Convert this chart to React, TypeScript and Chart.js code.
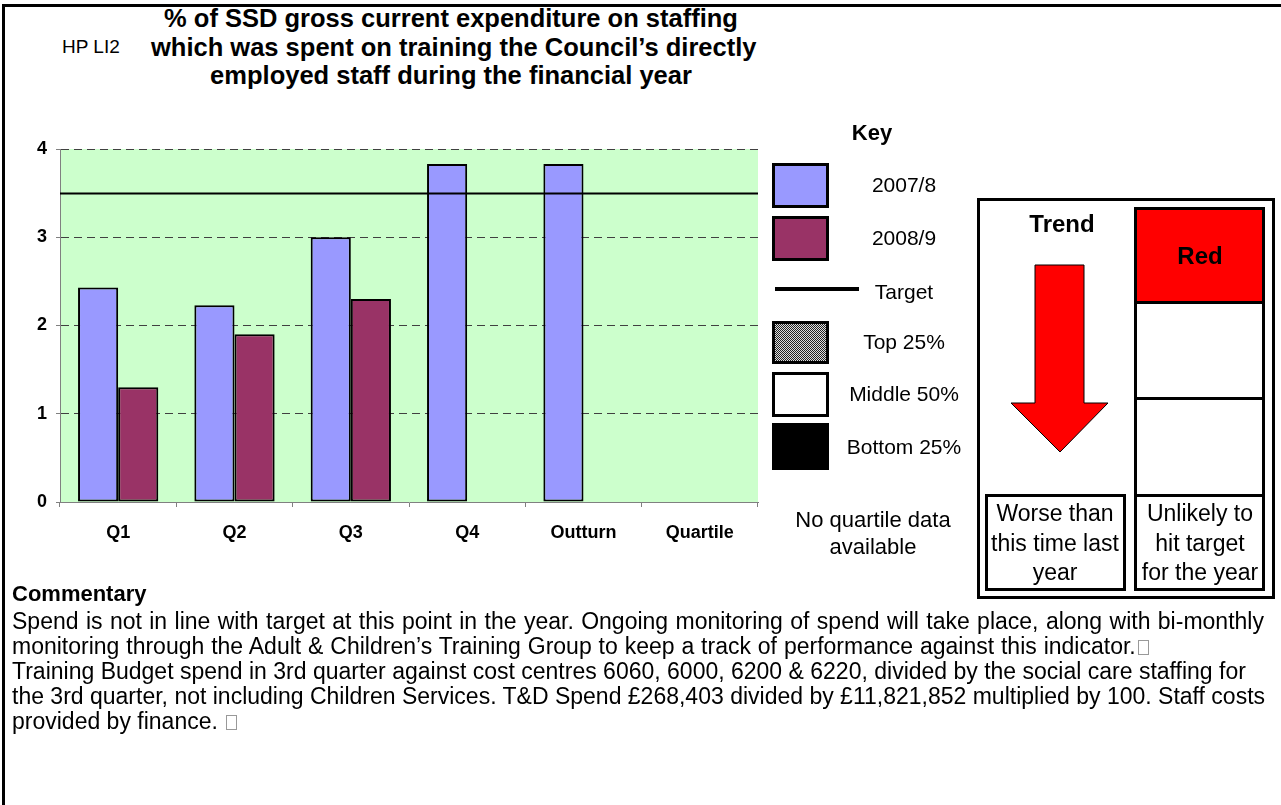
import React, { useEffect, useRef } from "react";
import { Chart, registerables } from "chart.js";

Chart.register(...registerables);

const categories = ["Q1", "Q2", "Q3", "Q4", "Outturn", "Quartile"];
const series2007 = [2.43, 2.23, 3.0, 3.83, 3.83, null];
const series2008 = [1.3, 1.9, 2.3, null, null, null];
const targetValue = 3.5;
const yMin = 0;
const yMax = 4;
const yStep = 1;

const FONT = '"Liberation Sans", Arial, Helvetica, sans-serif';

const commentaryLines = [
  "Spend is not in line with target at this point in the year. Ongoing monitoring of spend will take place, along with bi-monthly",
  "monitoring through the Adult & Children\u2019s Training Group to keep a track of performance against this indicator.",
  "Training Budget spend in 3rd quarter against cost centres 6060, 6000, 6200 & 6220, divided by the social care staffing for",
  "the 3rd quarter, not including Children Services. T&D Spend \u00a3268,403 divided by \u00a311,821,852 multiplied by 100. Staff costs",
  "provided by finance. ",
];
const commentaryBox = [false, true, false, false, true];
const commentaryWordSpacing = [1, 0.5, 0, 0, 0];

const titleLines = [
  "% of SSD gross current expenditure on staffing",
  "which was spent on training the Council\u2019s directly",
  "employed staff during the financial year",
];

const CW = 780;
const CH = 440;

function Centered({ cx, cy, children, style }: any) {
  return (
    <div
      style={{
        position: "absolute",
        left: cx - 300,
        width: 600,
        top: cy - 15,
        height: 30,
        lineHeight: "30px",
        textAlign: "center",
        whiteSpace: "nowrap",
        ...style,
      }}
    >
      {children}
    </div>
  );
}

function Left({ x, cy, children, style }: any) {
  return (
    <div
      style={{
        position: "absolute",
        left: x,
        top: cy - 15,
        height: 30,
        lineHeight: "30px",
        whiteSpace: "nowrap",
        ...style,
      }}
    >
      {children}
    </div>
  );
}

const Box = () => (
  <span
    style={{
      display: "inline-block",
      width: 11,
      height: 15,
      border: "1px solid #999",
      marginLeft: 2,
      verticalAlign: "-1px",
      boxSizing: "border-box",
    }}
  />
);

function BarChart() {
  const ref = useRef<HTMLCanvasElement | null>(null);
  useEffect(() => {
    if (!ref.current) return;
    const bgPlugin = {
      id: "bgPlugin",
      beforeDraw(chart: any) {
        const { ctx, chartArea } = chart;
        ctx.save();
        ctx.fillStyle = "#CCFFCC";
        ctx.fillRect(chartArea.left, chartArea.top, chartArea.right - chartArea.left, chartArea.bottom - chartArea.top);
        ctx.restore();
      },
    };
    const targetPlugin = {
      id: "targetPlugin",
      afterDatasetsDraw(chart: any) {
        const { ctx, chartArea, scales } = chart;
        const y = Math.round(scales.y.getPixelForValue(targetValue)) + 0.5;
        ctx.save();
        ctx.strokeStyle = "#000";
        ctx.lineWidth = 2;
        ctx.beginPath();
        ctx.moveTo(chartArea.left, y);
        ctx.lineTo(chartArea.right, y);
        ctx.stroke();
        ctx.restore();
      },
    };
    const chart = new Chart(ref.current, {
      type: "bar",
      data: {
        labels: categories,
        datasets: [
          {
            label: "2007/8",
            data: series2007,
            backgroundColor: "#9999FF",
            borderColor: "#000",
            borderWidth: 2,
            borderSkipped: false,
          },
          {
            label: "2008/9",
            data: series2008,
            backgroundColor: "#993366",
            borderColor: "#000",
            borderWidth: 2,
            borderSkipped: false,
          },
        ],
      },
      options: {
        responsive: false,
        animation: false,
        devicePixelRatio: 1,
        layout: { padding: { top: 29, right: 22, left: 0, bottom: 0 } },
        datasets: { bar: { categoryPercentage: 0.69, barPercentage: 1.0 } },
        plugins: { legend: { display: false }, tooltip: { enabled: false }, title: { display: false } },
        scales: {
          x: {
            afterFit(scale: any) {
              scale.height = 58;
            },
            grid: {
              display: true,
              drawOnChartArea: false,
              drawTicks: true,
              tickLength: 5,
              tickColor: "#808080",
              offset: true,
            },
            border: { display: true, color: "#808080", width: 1 },
            ticks: {
              color: "#000",
              font: { family: FONT, size: 18, weight: "bold" },
              padding: 15,
              maxRotation: 0,
            },
          },
          y: {
            min: yMin,
            max: yMax,
            afterFit(scale: any) {
              scale.width = 60;
            },
            grid: {
              color: (c: any) => (c.tick && c.tick.value === 0 ? "rgba(0,0,0,0)" : "#404040"),
              lineWidth: 1,
              drawTicks: true,
              tickLength: 4,
              tickColor: "#808080",
              tickBorderDash: [],
            },
            border: { display: true, color: "#808080", width: 1, dash: [8, 5] },
            ticks: {
              stepSize: yStep,
              color: "#000",
              font: { family: FONT, size: 18, weight: "bold" },
              padding: 9,
            },
          },
        },
      },
      plugins: [bgPlugin, targetPlugin],
    } as any);
    return () => chart.destroy();
  }, []);
  return (
    <canvas
      ref={ref}
      width={CW}
      height={CH}
      style={{ position: "absolute", left: 0, top: 120, width: CW, height: CH }}
    />
  );
}

export default function App() {
  const swatch = (top: number, bottom: number, bg: any, extra: any = {}) => (
    <div
      style={{
        position: "absolute",
        left: 772,
        top,
        width: 57,
        height: bottom - top,
        border: "3px solid #000",
        boxSizing: "border-box",
        background: bg,
        ...extra,
      }}
    />
  );
  return (
    <div
      style={{
        position: "absolute",
        left: 0,
        top: 0,
        width: 1281,
        height: 805,
        background: "#fff",
        overflow: "hidden",
        fontFamily: FONT,
        color: "#000",
      }}
    >
      <div
        style={{
          position: "absolute",
          left: 2,
          top: 4,
          width: 1290,
          height: 820,
          borderTop: "3px solid #000",
          borderLeft: "3px solid #000",
        }}
      />
      {titleLines.map((t, i) => (
        <Centered key={i} cx={451} cy={18 + i * 28.5} style={{ fontWeight: "bold", fontSize: 25.5 }}>
          {t}
        </Centered>
      ))}
      <Left x={62} cy={47} style={{ fontSize: 19 }}>
        HP LI2
      </Left>

      <BarChart />

      <Centered cx={872} cy={133} style={{ fontWeight: "bold", fontSize: 22 }}>
        Key
      </Centered>
      {swatch(163, 208, "#9999FF")}
      {swatch(216, 261, "#993366")}
      <div style={{ position: "absolute", left: 775, top: 287, width: 84, height: 4, background: "#000" }} />
      {swatch(321, 364, "repeating-conic-gradient(#222 0 25%, #ddd 0 50%) 0 0/2px 2px")}
      {swatch(372, 417, "#fff")}
      {swatch(423, 470, "#000", { border: "none" })}
      <Centered cx={904} cy={185} style={{ fontSize: 21 }}>2007/8</Centered>
      <Centered cx={904} cy={238} style={{ fontSize: 21 }}>2008/9</Centered>
      <Centered cx={904} cy={292} style={{ fontSize: 21 }}>Target</Centered>
      <Centered cx={904} cy={342} style={{ fontSize: 21 }}>Top 25%</Centered>
      <Centered cx={904} cy={394} style={{ fontSize: 21 }}>Middle 50%</Centered>
      <Centered cx={904} cy={447} style={{ fontSize: 21 }}>Bottom 25%</Centered>
      <Centered cx={873} cy={520} style={{ fontSize: 22 }}>No quartile data</Centered>
      <Centered cx={873} cy={547} style={{ fontSize: 22 }}>available</Centered>

      {/* Trend / status box */}
      <div
        style={{
          position: "absolute",
          left: 977,
          top: 198,
          width: 298,
          height: 401,
          border: "3px solid #000",
          boxSizing: "border-box",
        }}
      />
      <Centered cx={1062} cy={224} style={{ fontWeight: "bold", fontSize: 24 }}>Trend</Centered>
      <svg
        style={{ position: "absolute", left: 0, top: 0 }}
        width={1281}
        height={805}
      >
        <polygon
          points="1035,265 1084,265 1084,403 1108,403 1060,452 1011,403 1035,403"
          fill="#FF0000"
          stroke="#000"
          strokeWidth={1}
        />
      </svg>
      <div
        style={{
          position: "absolute",
          left: 1134,
          top: 207,
          width: 131,
          height: 97,
          border: "3px solid #000",
          background: "#FF0000",
          boxSizing: "border-box",
        }}
      />
      <Centered cx={1200} cy={256} style={{ fontWeight: "bold", fontSize: 24 }}>Red</Centered>
      <div
        style={{
          position: "absolute",
          left: 1134,
          top: 301,
          width: 131,
          height: 99,
          border: "3px solid #000",
          boxSizing: "border-box",
        }}
      />
      <div
        style={{
          position: "absolute",
          left: 1134,
          top: 397,
          width: 131,
          height: 100,
          border: "3px solid #000",
          boxSizing: "border-box",
        }}
      />
      <div
        style={{
          position: "absolute",
          left: 985,
          top: 494,
          width: 141,
          height: 97,
          border: "3px solid #000",
          boxSizing: "border-box",
        }}
      />
      <div
        style={{
          position: "absolute",
          left: 1134,
          top: 494,
          width: 131,
          height: 97,
          border: "3px solid #000",
          boxSizing: "border-box",
        }}
      />
      <Centered cx={1055} cy={513} style={{ fontSize: 23 }}>Worse than</Centered>
      <Centered cx={1055} cy={543} style={{ fontSize: 23 }}>this time last</Centered>
      <Centered cx={1055} cy={572} style={{ fontSize: 23 }}>year</Centered>
      <Centered cx={1200} cy={513} style={{ fontSize: 23 }}>Unlikely to</Centered>
      <Centered cx={1200} cy={543} style={{ fontSize: 23 }}>hit target</Centered>
      <Centered cx={1200} cy={572} style={{ fontSize: 23 }}>for the year</Centered>

      <Left x={12} cy={594} style={{ fontWeight: "bold", fontSize: 22 }}>
        Commentary
      </Left>
      {commentaryLines.map((t, i) => (
        <Left key={i} x={12} cy={621 + i * 25} style={{ fontSize: 23, wordSpacing: commentaryWordSpacing[i] }}>
          {t}
          {commentaryBox[i] ? <Box /> : null}
        </Left>
      ))}
    </div>
  );
}
